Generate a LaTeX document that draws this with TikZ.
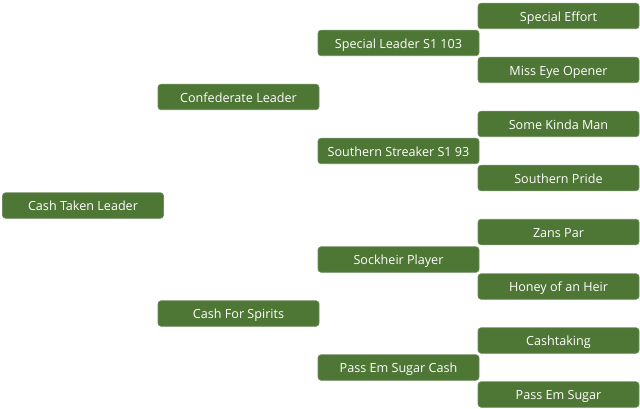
\documentclass[tikz,border=0pt]{standalone}
\usepackage{fontspec}
\setmainfont{Open Sans}
\definecolor{pedigreegreen}{HTML}{4E7634}
\definecolor{pedigreeedge}{HTML}{6E8C5C}

\begin{document}
\begin{tikzpicture}[x=1pt, y=-1pt, font=\fontsize{12.6}{14}\selectfont,
    horse/.style={fill=pedigreegreen, draw=pedigreeedge, line width=0.6pt,
      rounded corners=3pt, text=white, minimum width=161pt,
      minimum height=25.5pt, inner sep=0pt, text height=11pt,
      text depth=0.4pt}]

      \useasboundingbox (0, 0) rectangle (640, 409);

      % first generation
      \node [horse] (cashtaken) at (83, 205.5) {Cash Taken Leader};

      % parents
      \node [horse] (confederate) at (238.5, 97) {Confederate Leader};
      \node [horse] (spirits) at (238.5, 313.5) {Cash For Spirits};

      % grandparents
      \node [horse] (specialleader) at (398.5, 43) {Special Leader S1 103};
      \node [horse] (streaker) at (398.5, 151) {Southern Streaker S1 93};
      \node [horse] (sockheir) at (398.5, 259.5) {Sockheir Player};
      \node [horse] (passcash) at (398.5, 367.5) {Pass Em Sugar Cash};

      % great-grandparents
      \node [horse] (effort) at (558.5, 16) {Special Effort};
      \node [horse] (eyeopener) at (558.5, 70) {Miss Eye Opener};
      \node [horse] (kinda) at (558.5, 124) {Some Kinda Man};
      \node [horse] (pride) at (558.5, 178) {Southern Pride};
      \node [horse] (zans) at (558.5, 232) {Zans Par};
      \node [horse] (honey) at (558.5, 286.5) {Honey of an Heir};
      \node [horse] (cashtaking) at (558.5, 340.5) {Cashtaking};
      \node [horse] (passsugar) at (558.5, 394.5) {Pass Em Sugar};
\end{tikzpicture}
\end{document}
